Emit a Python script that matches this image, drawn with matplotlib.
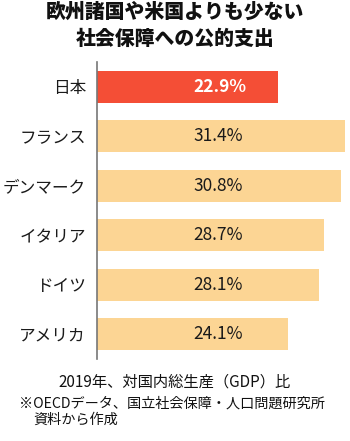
import matplotlib.pyplot as plt

plt.rcParams['font.family'] = ['Noto Sans CJK JP', 'DejaVu Sans']

# data
countries = ['日本', 'フランス', 'デンマーク', 'イタリア', 'ドイツ', 'アメリカ']
values = [22.9, 31.4, 30.8, 28.7, 28.1, 24.1]
value_labels = ['22.9%', '31.4%', '30.8%', '28.7%', '28.1%', '24.1%']
colors = ['#F44E36', '#FCD594', '#FCD594', '#FCD594', '#FCD594', '#FCD594']

fig = plt.figure(figsize=(3.5, 4.41), dpi=100)
ax = fig.add_axes([0.277, 0.186, 0.723, 0.673])

ypos = range(len(countries))
ax.barh(ypos, values, height=0.65, color=colors, left=0)
ax.set_ylim(len(countries) - 0.5, -0.5)
ax.set_xlim(0, 32)

# value labels inside the bars
for i, lab in enumerate(value_labels):
    if i == 0:
        ax.text(15.6, i, lab, ha='center', va='center', fontsize=12.5,
                color='white', fontweight='bold')
    else:
        ax.text(15.3, i, lab, ha='center', va='center', fontsize=12.5,
                color='#1a1a1a')

ax.set_yticks(list(ypos))
ax.set_yticklabels(countries, fontsize=12, color='#1a1a1a')
ax.tick_params(axis='y', length=0, pad=8)
ax.set_xticks([])
for s in ['top', 'right', 'bottom']:
    ax.spines[s].set_visible(False)
ax.spines['left'].set_color('#777777')
ax.spines['left'].set_linewidth(1.2)

# title
fig.text(0.5, 0.974, '欧州諸国や米国よりも少ない', ha='center', va='center',
         fontsize=14.3, fontweight='heavy', color='#111111')
fig.text(0.5, 0.911, '社会保障への公的支出', ha='center', va='center',
         fontsize=14.3, fontweight='heavy', color='#111111')

# footnotes
fig.text(0.5, 0.134, '2019年、対国内総生産（GDP）比', ha='center', va='center',
         fontsize=11, color='#111111')
fig.text(0.055, 0.086, '※OECDデータ、国立社会保障・人口問題研究所', ha='left',
         va='center', fontsize=10.2, color='#111111')
fig.text(0.095, 0.048, '資料から作成', ha='left', va='center',
         fontsize=10.2, color='#111111')

fig.savefig('out.png', dpi=100, facecolor='white')
